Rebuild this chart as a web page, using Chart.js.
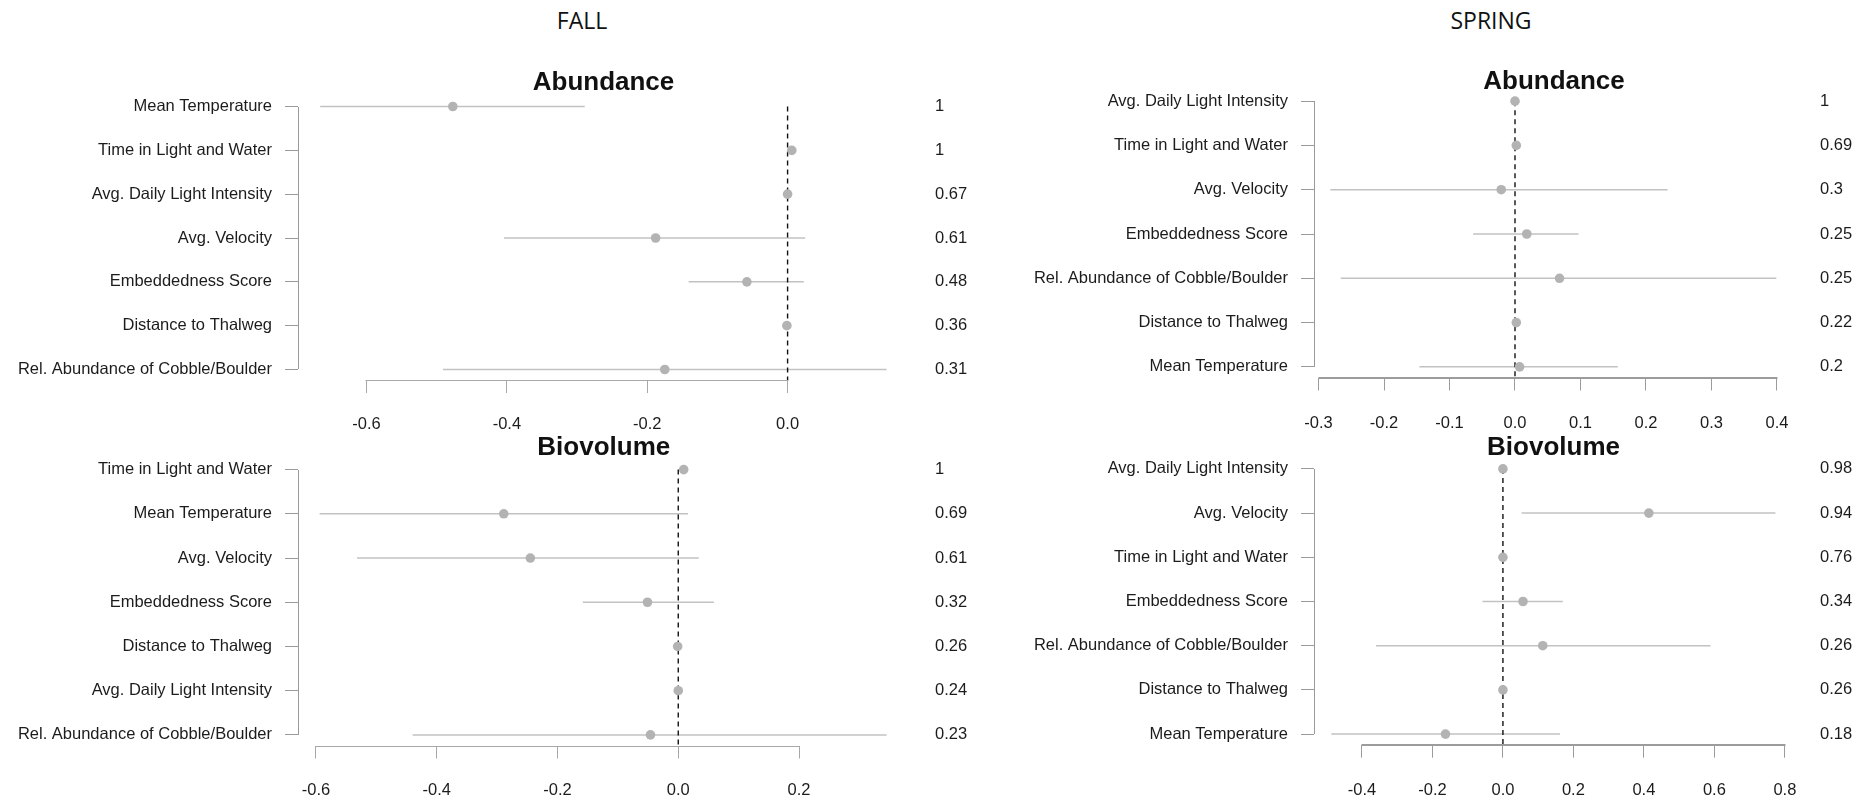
<!DOCTYPE html>
<html>
<head>
<meta charset="utf-8">
<title>Model-averaged coefficients: Fall and Spring</title>
<script src="https://cdn.jsdelivr.net/npm/chart.js@4.4.1/dist/chart.umd.min.js"></script>
<style>
  html, body { margin: 0; padding: 0; background: #fff; }
  #page { position: relative; width: 1874px; height: 799px; overflow: hidden; background: #fff; }
  #page canvas { position: absolute; left: 0; top: 0; width: 1874px; height: 799px; }
  .season {
    position: absolute; top: 4px; line-height: 32px;
    font-family: "Open Sans", "Noto Sans", sans-serif; font-size: 23px; color: #111;
    transform: translateX(-50%); white-space: nowrap;
  }
</style>
</head>
<body>
<div id="page">
  <div class="season" style="left:582px">FALL</div>
  <div class="season" style="left:1491px">SPRING</div>
  <canvas id="fallAbund" width="1874" height="799"></canvas>
  <canvas id="fallBio" width="1874" height="799"></canvas>
  <canvas id="springAbund" width="1874" height="799"></canvas>
  <canvas id="springBio" width="1874" height="799"></canvas>
</div>
<script>
// ---- FALL / Abundance ----
const fallAbundNames = ['Mean Temperature', 'Time in Light and Water', 'Avg. Daily Light Intensity',
  'Avg. Velocity', 'Embeddedness Score', 'Distance to Thalweg', 'Rel. Abundance of Cobble/Boulder'];
const fallAbundEst = [-0.477, 0.006, 0.0, -0.188, -0.058, -0.001, -0.175];
const fallAbundLo  = [-0.666, 0.006, 0.0, -0.404, -0.141, -0.001, -0.491];
const fallAbundHi  = [-0.289, 0.006, 0.0,  0.025,  0.023, -0.001,  0.141];
const fallAbundWeight = ['1', '1', '0.67', '0.61', '0.48', '0.36', '0.31'];
const fallAbundTicks = [-0.6, -0.4, -0.2, 0.0];
const fallAbundTickLabels = ['-0.6', '-0.4', '-0.2', '0.0'];
const fallAbundXLim = [-0.6976, 0.173];

// ---- FALL / Biovolume ----
const fallBioNames = ['Time in Light and Water', 'Mean Temperature', 'Avg. Velocity', 'Embeddedness Score',
  'Distance to Thalweg', 'Avg. Daily Light Intensity', 'Rel. Abundance of Cobble/Boulder'];
const fallBioEst = [0.009, -0.289, -0.245, -0.051, -0.001, 0.0, -0.046];
const fallBioLo  = [0.009, -0.594, -0.532, -0.158, -0.001, 0.0, -0.440];
const fallBioHi  = [0.009,  0.016,  0.034,  0.059, -0.001, 0.0,  0.345];
const fallBioWeight = ['1', '0.69', '0.61', '0.32', '0.26', '0.24', '0.23'];
const fallBioTicks = [-0.6, -0.4, -0.2, 0.0, 0.2];
const fallBioTickLabels = ['-0.6', '-0.4', '-0.2', '0.0', '0.2'];
const fallBioXLim = [-0.6298, 0.383];

// ---- SPRING / Abundance ----
const springAbundNames = ['Avg. Daily Light Intensity', 'Time in Light and Water', 'Avg. Velocity',
  'Embeddedness Score', 'Rel. Abundance of Cobble/Boulder', 'Distance to Thalweg', 'Mean Temperature'];
const springAbundEst = [0.0, 0.002, -0.021, 0.018, 0.068, 0.002, 0.007];
const springAbundLo  = [0.0, 0.002, -0.282, -0.064, -0.266, 0.002, -0.146];
const springAbundHi  = [0.0, 0.002,  0.233,  0.097,  0.399, 0.002,  0.157];
const springAbundWeight = ['1', '0.69', '0.3', '0.25', '0.25', '0.22', '0.2'];
const springAbundTicks = [-0.3, -0.2, -0.1, 0.0, 0.1, 0.2, 0.3, 0.4];
const springAbundTickLabels = ['-0.3', '-0.2', '-0.1', '0.0', '0.1', '0.2', '0.3', '0.4'];
const springAbundXLim = [-0.3069, 0.426];

// ---- SPRING / Biovolume ----
const springBioNames = ['Avg. Daily Light Intensity', 'Avg. Velocity', 'Time in Light and Water',
  'Embeddedness Score', 'Rel. Abundance of Cobble/Boulder', 'Distance to Thalweg', 'Mean Temperature'];
const springBioEst = [0.0, 0.414, 0.0, 0.057, 0.113, 0.0, -0.163];
const springBioLo  = [0.0, 0.053, 0.0, -0.058, -0.360, 0.0, -0.487];
const springBioHi  = [0.0, 0.773, 0.0,  0.170,  0.589, 0.0,  0.162];
const springBioWeight = ['0.98', '0.94', '0.76', '0.34', '0.26', '0.26', '0.18'];
const springBioTicks = [-0.4, -0.2, 0.0, 0.2, 0.4, 0.6, 0.8];
const springBioTickLabels = ['-0.4', '-0.2', '0.0', '0.2', '0.4', '0.6', '0.8'];
const springBioXLim = [-0.536, 0.823];

// Row range shared by all panels (rows 1..7 plus 4% margin, top row first)
const rowLim = [0.76, 7.24];

const FONT = '"Liberation Sans", Arial, sans-serif';
const TEXT = '#1c1c1c';
const PAGE_W = 1874, PAGE_H = 799;

// Draws base-graphics style axis lines (first to last tick) and the panel heading
const baseAxes = {
  id: 'baseAxes',
  afterDraw(chart, args, o) {
    const { ctx, chartArea, scales } = chart;
    const xs = scales.x, ys = scales.y;
    ctx.save();
    // bottom axis line
    const xt = xs.ticks;
    const x0 = Math.round(xs.getPixelForValue(xt[0].value));
    const x1 = Math.round(xs.getPixelForValue(xt[xt.length - 1].value));
    const by = Math.round(chartArea.bottom) + (o.xAxisWidth % 2 ? 0.5 : 0);
    ctx.strokeStyle = o.xAxisColor;
    ctx.lineWidth = o.xAxisWidth;
    ctx.beginPath(); ctx.moveTo(x0 - 0.5, by); ctx.lineTo(x1 + 0.5, by); ctx.stroke();
    // left axis line
    const ly = Math.round(chartArea.left) + 0.5;
    const y0 = Math.round(ys.getPixelForValue(1));
    const y1 = Math.round(ys.getPixelForValue(7));
    ctx.strokeStyle = o.yAxisColor;
    ctx.lineWidth = 1;
    ctx.beginPath(); ctx.moveTo(ly, y0); ctx.lineTo(ly, y1); ctx.stroke();
    // heading
    ctx.fillStyle = '#111';
    ctx.font = 'bold 26px ' + FONT;
    ctx.textAlign = 'center';
    ctx.textBaseline = 'middle';
    ctx.fillText(o.title, (chartArea.left + chartArea.right) / 2, o.titleY);
    ctx.restore();
  }
};

function makePanel(cfg) {
  const n = cfg.names.length;
  const points = cfg.est.map((v, i) => ({ x: v, y: i + 1 }));
  const intervals = [];
  for (let i = 0; i < n; i++) {
    intervals.push({ x: cfg.lo[i], y: i + 1 });
    intervals.push({ x: cfg.hi[i], y: i + 1 });
    intervals.push({ x: null, y: null });
  }
  const zeroLine = [{ x: 0, y: 1 }, { x: 0, y: rowLim[1] }];
  const rowTicks = scale => { scale.ticks = cfg.names.map((_, i) => ({ value: i + 1 })); };
  const b = cfg.box;

  new Chart(document.getElementById(cfg.id), {
    type: 'scatter',
    data: {
      datasets: [
        { data: points, pointRadius: 4.8, pointBackgroundColor: '#b3b3b3', pointBorderWidth: 0,
          pointHoverRadius: 4.8, showLine: false },
        { data: zeroLine, showLine: true, borderColor: '#111', borderWidth: 1.4, borderDash: [5, 4],
          pointRadius: 0, pointHoverRadius: 0 },
        { data: intervals, showLine: true, spanGaps: false, borderColor: '#c2c2c2', borderWidth: 1.5,
          pointRadius: 0, pointHoverRadius: 0 }
      ]
    },
    options: {
      responsive: false,
      animation: false,
      events: [],
      layout: { padding: { left: 0, right: 0, top: b.top, bottom: 0 } },
      plugins: {
        legend: { display: false },
        tooltip: { enabled: false },
        baseAxes: { title: cfg.title, titleY: cfg.titleY, xAxisColor: cfg.xAxisColor,
          xAxisWidth: cfg.xAxisWidth, yAxisColor: '#9a9a9a' }
      },
      scales: {
        x: {
          type: 'linear', position: 'bottom',
          min: cfg.xlim[0], max: cfg.xlim[1],
          afterBuildTicks: s => { s.ticks = cfg.ticks.map(v => ({ value: v })); },
          afterFit: s => { s.height = PAGE_H - b.bottom; },
          border: { display: false },
          grid: { drawOnChartArea: false, drawTicks: true, tickLength: 13, color: cfg.xAxisColor, lineWidth: 1 },
          ticks: { autoSkip: false, maxRotation: 0, minRotation: 0, padding: cfg.tickPad,
            color: TEXT, font: { family: FONT, size: 16.5 },
            callback: (v, i) => cfg.tickLabels[i] }
        },
        y: {
          type: 'linear', position: 'left', reverse: true,
          min: rowLim[0], max: rowLim[1],
          afterBuildTicks: rowTicks,
          afterFit: s => { s.width = b.left; },
          border: { display: false },
          grid: { drawOnChartArea: false, drawTicks: true, tickLength: 13, color: '#9a9a9a', lineWidth: 1 },
          ticks: { autoSkip: false, padding: 13, color: TEXT, font: { family: FONT, size: 16.5 },
            callback: (v, i) => cfg.names[i] }
        },
        y2: {
          type: 'linear', position: 'right', reverse: true,
          min: rowLim[0], max: rowLim[1],
          afterBuildTicks: rowTicks,
          afterFit: s => { s.width = PAGE_W - b.right; },
          border: { display: false },
          grid: { display: false, drawOnChartArea: false, drawTicks: false },
          ticks: { autoSkip: false, padding: cfg.valueX - b.right, color: TEXT,
            font: { family: FONT, size: 16.5 },
            callback: (v, i) => cfg.weights[i] }
        }
      }
    },
    plugins: [baseAxes]
  });
}

Chart.defaults.font.family = FONT;

makePanel({ id: 'fallAbund', title: 'Abundance', names: fallAbundNames, est: fallAbundEst,
  lo: fallAbundLo, hi: fallAbundHi, weights: fallAbundWeight, ticks: fallAbundTicks,
  tickLabels: fallAbundTickLabels, xlim: fallAbundXLim,
  box: { left: 298, right: 909, top: 96, bottom: 380 }, valueX: 935, titleY: 83, tickPad: 22,
  xAxisColor: '#a8a8a8', xAxisWidth: 1 });

makePanel({ id: 'fallBio', title: 'Biovolume', names: fallBioNames, est: fallBioEst,
  lo: fallBioLo, hi: fallBioHi, weights: fallBioWeight, ticks: fallBioTicks,
  tickLabels: fallBioTickLabels, xlim: fallBioXLim,
  box: { left: 298, right: 909.5, top: 459, bottom: 745.5 }, valueX: 935, titleY: 448, tickPad: 22,
  xAxisColor: '#a8a8a8', xAxisWidth: 1 });

makePanel({ id: 'springAbund', title: 'Abundance', names: springAbundNames, est: springAbundEst,
  lo: springAbundLo, hi: springAbundHi, weights: springAbundWeight, ticks: springAbundTicks,
  tickLabels: springAbundTickLabels, xlim: springAbundXLim,
  box: { left: 1314, right: 1794, top: 90.5, bottom: 377.5 }, valueX: 1820, titleY: 82, tickPad: 23,
  xAxisColor: '#9c9c9c', xAxisWidth: 2 });

makePanel({ id: 'springBio', title: 'Biovolume', names: springBioNames, est: springBioEst,
  lo: springBioLo, hi: springBioHi, weights: springBioWeight, ticks: springBioTicks,
  tickLabels: springBioTickLabels, xlim: springBioXLim,
  box: { left: 1314, right: 1793, top: 458.3, bottom: 744.7 }, valueX: 1820, titleY: 448, tickPad: 23,
  xAxisColor: '#9c9c9c', xAxisWidth: 2 });
</script>
</body>
</html>
